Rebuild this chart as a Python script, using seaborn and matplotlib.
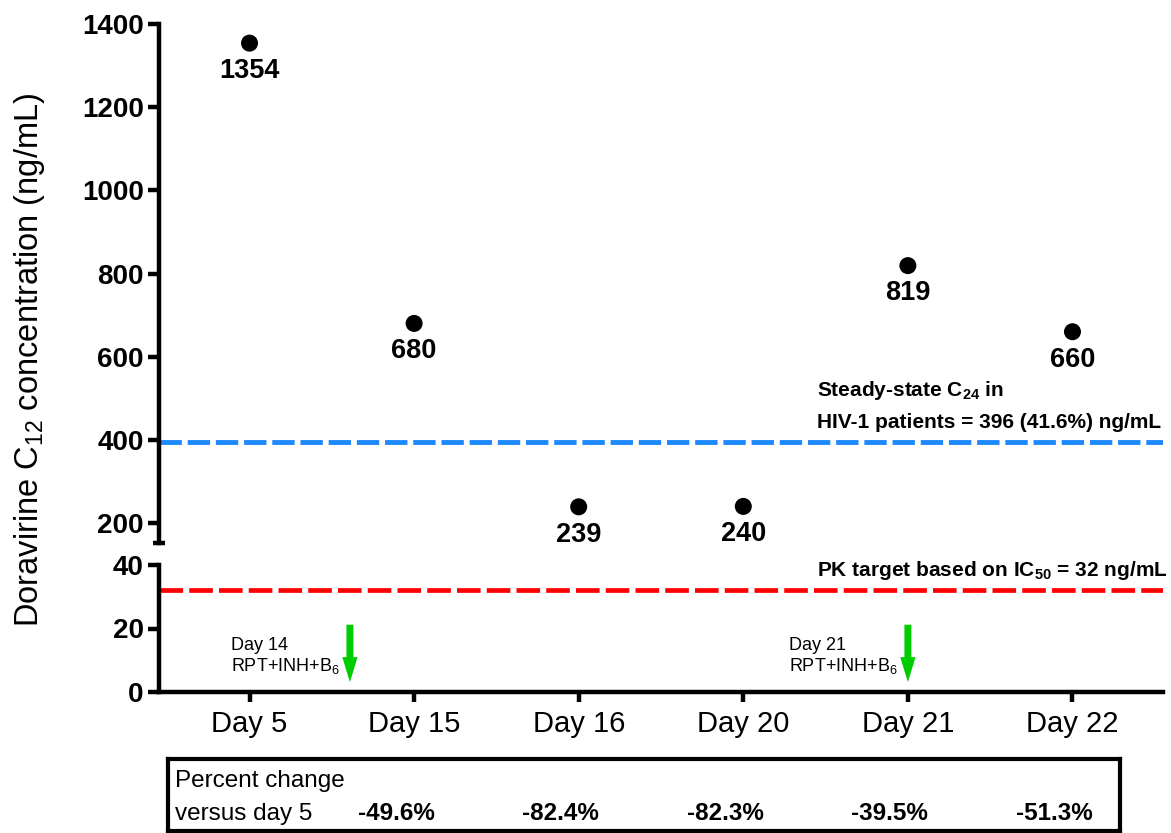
import numpy as np
import pandas as pd
import matplotlib
matplotlib.use("Agg")
import matplotlib.pyplot as plt
import matplotlib.transforms as mtransforms
import seaborn as sns

# Doravirine trough concentrations by study day
days = ["Day 5", "Day 15", "Day 16", "Day 20", "Day 21", "Day 22"]
c12 = [1354, 680, 239, 240, 819, 660]
pct_change = ["-49.6%", "-82.4%", "-82.3%", "-39.5%", "-51.3%"]

# Reference levels (ng/mL)
steady_c24 = 396
ic50_target = 32

# Rifapentine/isoniazid dosing markers
dose_labels = ["Day 14", "Day 21"]
dose_x = [0.61, 4.0]

top_ticks = [200, 400, 600, 800, 1000, 1200, 1400]
bottom_ticks = [0, 20, 40]

sns.set_theme(style="ticks")
plt.rcParams["font.family"] = ["Liberation Sans", "DejaVu Sans"]
plt.rcParams["mathtext.default"] = "regular"
plt.rcParams["axes.edgecolor"] = "black"
plt.rcParams["xtick.color"] = "black"
plt.rcParams["ytick.color"] = "black"
plt.rcParams["text.color"] = "black"

W, H = 1171, 833
fig = plt.figure(figsize=(W / 100, H / 100), dpi=100)


def px_box(l, t, r, b):
    return [l / W, 1 - b / H, (r - l) / W, (b - t) / H]


ax_hi = fig.add_axes(px_box(159, 24, 1163, 543))
ax_lo = fig.add_axes(px_box(159, 565, 1163, 692), sharex=ax_hi)
ax_tab = fig.add_axes(px_box(168, 759, 1120, 831))

SPINE_W = 3.2
df = pd.DataFrame({"day": days, "c12": c12})
sns.scatterplot(data=df, x="day", y="c12", ax=ax_hi, color="black", s=150,
                edgecolor="none", zorder=5, clip_on=False, legend=False)
sns.scatterplot(data=df, x="day", y="c12", ax=ax_lo, color="black", s=150,
                edgecolor="none", zorder=5, legend=False)

# value labels under each point
for i, v in enumerate(c12):
    ax_hi.annotate(f"{v}", xy=(i, v), xytext=(0, -20), textcoords="offset points",
                   ha="center", va="center", fontsize=19.5, fontweight="bold",
                   annotation_clip=False)

# reference lines
ax_hi.axhline(steady_c24, color="#1E88FF", lw=3.5, dashes=(4.6, 1.2), zorder=2)
ax_lo.axhline(ic50_target, color="#FF0000", lw=3.4, dashes=(5.0, 1.3), zorder=2)

ax_hi.annotate("Steady-state C$_{24}$ in", xy=(3.445, steady_c24), xytext=(0, 32.5),
               textcoords="offset points", ha="left", va="baseline",
               fontsize=15, fontweight="bold")
ax_hi.annotate(f"HIV-1 patients = {steady_c24} (41.6%) ng/mL", xy=(3.445, steady_c24),
               xytext=(0, 9.8), textcoords="offset points", ha="left", va="baseline",
               fontsize=15, fontweight="bold")
ax_lo.annotate(f"PK target based on IC$_{{50}}$ = {ic50_target} ng/mL", xy=(3.445, ic50_target),
               xytext=(0, 10.4), textcoords="offset points", ha="left", va="baseline",
               fontsize=15, fontweight="bold", annotation_clip=False)

# dosing arrows
for x, lab in zip(dose_x, dose_labels):
    ax_lo.annotate("", xy=(x, 3.1), xytext=(x, 21.2),
                   arrowprops=dict(arrowstyle="simple,head_length=1.8,head_width=1.1,tail_width=0.5",
                                   mutation_scale=10, color="#00CC00", shrinkA=0, shrinkB=0,
                                   lw=0))
    ax_lo.text(x - 0.72, 13.2, lab, ha="left", va="baseline", fontsize=13)
    ax_lo.text(x - 0.72, 6.5, "RPT+INH+B$_6$", ha="left", va="baseline", fontsize=13)

# axes styling
for ax in (ax_hi, ax_lo):
    ax.set_xlabel("")
    ax.set_ylabel("")
    ax.spines["top"].set_visible(False)
    ax.spines["right"].set_visible(False)
    ax.spines["left"].set_linewidth(SPINE_W)
    ax.spines["bottom"].set_linewidth(SPINE_W)
    ax.tick_params(axis="y", length=8, width=SPINE_W, labelsize=20, pad=3)

ax_hi.spines["bottom"].set_visible(False)
ax_hi.tick_params(axis="x", bottom=False, labelbottom=False)
ax_hi.set_yticks(top_ticks)
ax_hi.set_yticklabels([str(t) for t in top_ticks], fontweight="bold")
ax_hi.set_ylim(152, 1400)

ax_lo.set_yticks(bottom_ticks)
ax_lo.set_yticklabels([str(t) for t in bottom_ticks], fontweight="bold")
ax_lo.set_ylim(0, 40)
ax_lo.set_xticks(range(len(days)))
ax_lo.set_xticklabels(days)
ax_lo.tick_params(axis="x", length=7, width=SPINE_W, labelsize=21, pad=6)
ax_lo.set_xlim(-0.55, 5.55)

# axis break mark
ax_hi.plot([-0.006, 0.006], [0, 0], transform=ax_hi.transAxes, color="black",
           lw=SPINE_W, clip_on=False, solid_capstyle="butt")

fig.text(30 / W, 1 - 360 / H, "Doravirine C$_{12}$ concentration (ng/mL)",
         rotation=90, ha="center", va="center", fontsize=23.5)

# percent-change table
ax_tab.set_xticks([])
ax_tab.set_yticks([])
for s in ax_tab.spines.values():
    s.set_visible(True)
    s.set_linewidth(3)
    s.set_color("black")
ax_tab.text(0.0074, 0.70, "Percent change", transform=ax_tab.transAxes,
            ha="left", va="center", fontsize=17.5)
ax_tab.text(0.0074, 0.24, "versus day 5", transform=ax_tab.transAxes,
            ha="left", va="center", fontsize=17.5)
blend = mtransforms.blended_transform_factory(ax_lo.transData, ax_tab.transAxes)
for i, p in enumerate(pct_change):
    ax_tab.text(i + 1 - 0.11, 0.24, p, transform=blend, ha="center", va="center",
                fontsize=17.5, fontweight="bold")

fig.savefig("out.png", dpi=100)
